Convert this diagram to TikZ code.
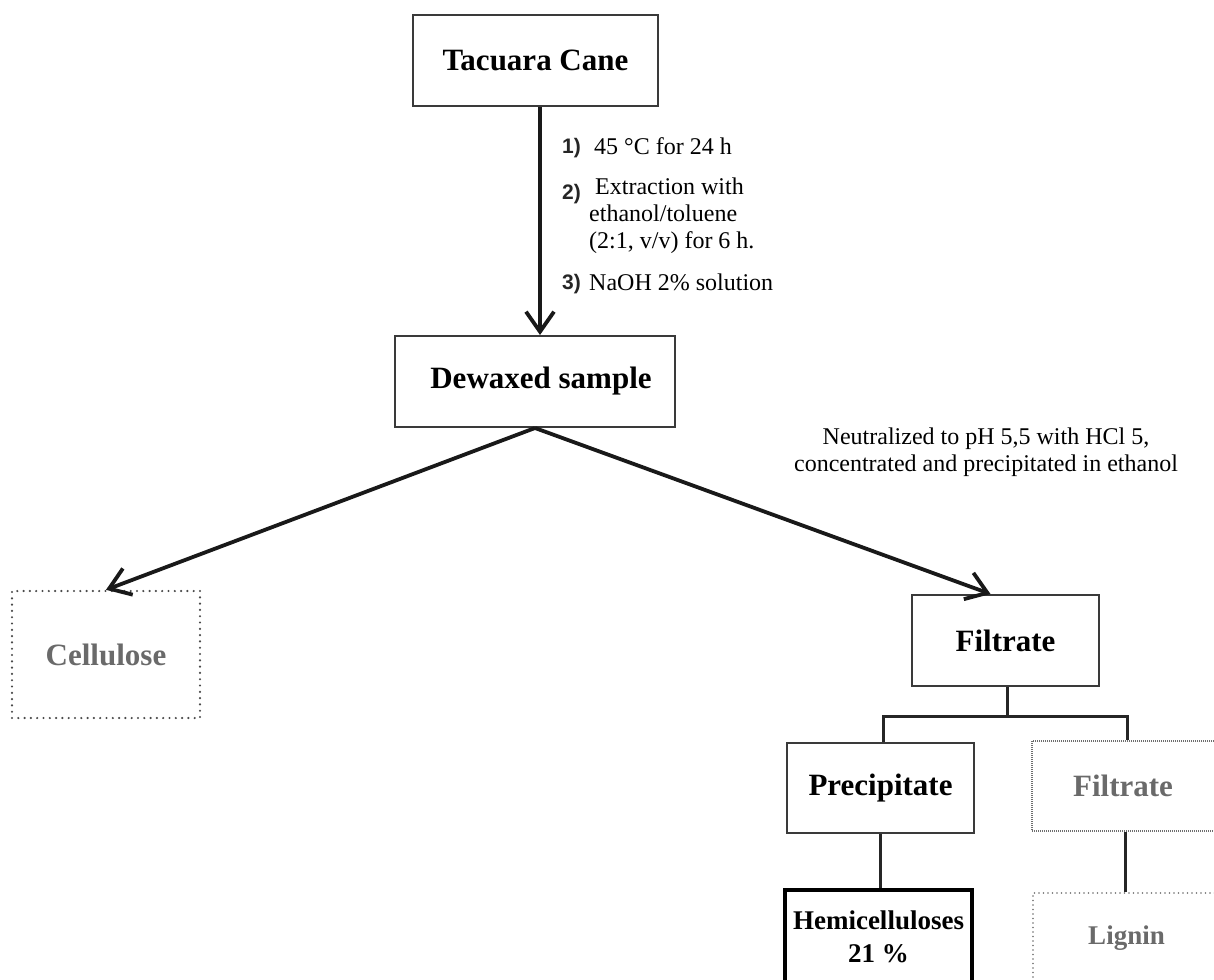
\documentclass[tikz,border=0pt]{standalone}
\usepackage{fontspec}
\setmainfont{Liberation Serif}
\newfontfamily\numfont{Liberation Sans}
\usetikzlibrary{arrows.meta,calc}
\definecolor{boxline}{HTML}{3A3A3A}
\definecolor{greytext}{HTML}{6A6A6A}
\definecolor{dotline}{HTML}{4A4A4A}
\begin{document}
\begin{tikzpicture}[x=1pt,y=-1pt,
  bigfont/.style={font=\fontsize{31}{36}\selectfont\bfseries},
  solidbox/.style={draw=boxline, line width=2pt, inner sep=0pt, bigfont},
  dotbox/.style={draw=dotline, line width=2.4pt, line cap=round, dash pattern=on 0pt off 6.3pt, inner sep=0pt, bigfont, text=greytext},
  finedotbox/.style={draw=dotline!80, line width=1.5pt, dash pattern=on 1pt off 1pt, inner sep=0pt, bigfont, text=greytext},
  ligbox/.style={draw=dotline!80, line width=1.8pt, line cap=round, dash pattern=on 0pt off 4.5pt, inner sep=0pt, font=\fontsize{27}{33}\selectfont\bfseries, text=greytext},
  hembox/.style={draw=black, line width=3.5pt, inner sep=0pt, align=center, font=\fontsize{27}{33}\selectfont\bfseries},
  arr/.style={draw=black!90, line width=3.8pt, -{Straight Barb[length=20pt,width=28pt]}},
  treeline/.style={draw=black!85, line width=3pt},
  steptext/.style={inner sep=0pt, anchor=west, font=\fontsize{24}{27}\selectfont},
  stepnum/.style={inner sep=0pt, anchor=west, font=\numfont\bfseries\fontsize{21}{24}\selectfont, text=black!85},
]
\useasboundingbox (0,0) rectangle (1214,979);
\clip (0,0) rectangle (1214,979);
\fill[white] (0,0) rectangle (1214,979);

% boxes
\node[solidbox, minimum width=245pt, minimum height=91pt] (tc) at (535.5,60.5) {Tacuara Cane};
\node[solidbox, minimum width=280pt, minimum height=91pt] (dw) at (535,381.5) {\hspace*{12pt}Dewaxed sample};
\node[dotbox, minimum width=188pt, minimum height=127pt] (cel) at (106,654.5) {Cellulose};
\node[solidbox, minimum width=187pt, minimum height=91pt] (fil) at (1005.5,640.5) {Filtrate};
\node[solidbox, minimum width=187pt, minimum height=90pt] (pre) at (880.5,788) {Precipitate};
\node[finedotbox, minimum width=186pt, minimum height=90pt] (fil2) at (1125,786) {\hspace*{-4pt}Filtrate};
\node[hembox, minimum width=187pt, minimum height=94pt] (hem) at (878.5,937) {Hemicelluloses\\21 \%};
\node[ligbox, minimum width=187pt, minimum height=91pt] (lig) at (1126.5,938.5) {Lignin};

% step labels
\node[stepnum] (s1) at (562,148) {1)};
\node[steptext] (t1) at (594,146) {45 °C for 24 h};
\node[stepnum] (s2) at (562,194) {2)};
\node[steptext, align=left] (t2) at (589,216) {\hspace*{6pt}Extraction with\\ethanol/toluene\\(2:1, v/v) for 6 h.};
\node[stepnum] (s3) at (562,284) {3)};
\node[steptext] (t3) at (589,282) {NaOH 2\% solution};

\node[inner sep=0pt, align=center, font=\fontsize{24}{27}\selectfont] (neut) at (986,452)
  {Neutralized to pH 5,5 with HCl 5,\\concentrated and precipitated in ethanol};

% connectors
\coordinate (vx) at (540,0);
\draw[arr] (tc.south -| vx) -- (dw.north -| vx);
\draw[arr] (dw.south) -- (cel.north);
\draw[arr] (dw.south) -- ($(fil.north)+(-15,0)$);

\coordinate (junc) at (1007,716);
\coordinate (lx) at (883,0);
\coordinate (rx) at (1127,0);
\draw[treeline] (fil.south -| junc) -- (junc);
\draw[treeline] (pre.north -| lx) |- (junc) -| (fil2.north -| rx);
\draw[treeline] (pre.south) -- (pre.south |- hem.north);
\draw[treeline] (fil2.south) -- (fil2.south |- lig.north);
\end{tikzpicture}
\end{document}
